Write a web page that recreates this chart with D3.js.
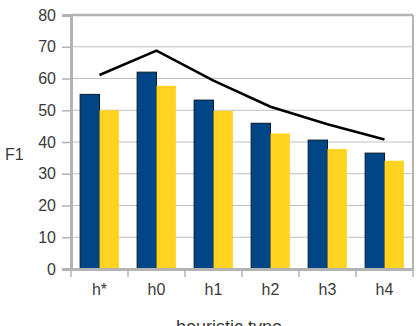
<!DOCTYPE html>
<html>
<head>
<meta charset="utf-8">
<script src="https://cdn.jsdelivr.net/npm/d3@7"></script>
<style>
  body { margin: 0; background: #fff; }
  text { font-family: "Liberation Sans", Arial, sans-serif; fill: #3a3a3a; }
</style>
</head>
<body>
<div id="chart"></div>
<script>
const categories = ["h*", "h0", "h1", "h2", "h3", "h4"];
const seriesA = [55, 62, 53.2, 45.9, 40.6, 36.5];
const seriesB = [50, 57.7, 49.8, 42.7, 37.8, 34.1];
const lineValues = [61.1, 68.8, 59.3, 51.1, 45.6, 40.8];
const yTicks = [0, 10, 20, 30, 40, 50, 60, 70, 80];

const margin = { top: 15, right: 3, bottom: 57, left: 71 };
const width = 416 - margin.left - margin.right;
const height = 326 - margin.top - margin.bottom;

const svg = d3.select("#chart")
    .append("svg")
    .attr("width", 416)
    .attr("height", 326);

const g = svg.append("g")
    .attr("transform", `translate(${margin.left},${margin.top})`);

const x = d3.scaleBand()
    .domain(categories)
    .range([0, width])
    .paddingInner(0)
    .paddingOuter(0);

const y = d3.scaleLinear()
    .domain([0, 80])
    .range([height, 0]);

const sub = d3.scaleBand()
    .domain(["a", "b"])
    .range([x.bandwidth() * 0.16, x.bandwidth() * 0.84]);

// gridlines
g.selectAll("line.grid")
    .data(yTicks.filter(d => d > 0 && d < 80))
    .join("line")
    .attr("x1", 0)
    .attr("x2", width)
    .attr("y1", d => y(d))
    .attr("y2", d => y(d))
    .attr("stroke", "#c0c0c0")
    .attr("stroke-width", 1);

// frame top/right
g.append("line")
    .attr("x1", 0).attr("x2", width)
    .attr("y1", 0).attr("y2", 0)
    .attr("stroke", "#b3b3b3").attr("stroke-width", 2.5);
g.append("line")
    .attr("x1", width).attr("x2", width)
    .attr("y1", 0).attr("y2", height)
    .attr("stroke", "#b3b3b3").attr("stroke-width", 2);

// bars
const groups = g.selectAll("g.cat")
    .data(categories.map((c, i) => ({ c, a: seriesA[i], b: seriesB[i] })))
    .join("g")
    .attr("transform", d => `translate(${x(d.c)},0)`);

groups.append("rect")
    .attr("x", sub("a"))
    .attr("width", sub.bandwidth())
    .attr("y", d => y(d.a))
    .attr("height", d => y(0) - y(d.a))
    .attr("fill", "#004586")
    .attr("stroke", "#0a1a2a")
    .attr("stroke-width", 1);

groups.append("rect")
    .attr("x", sub("b"))
    .attr("width", sub.bandwidth())
    .attr("y", d => y(d.b))
    .attr("height", d => y(0) - y(d.b))
    .attr("fill", "#ffd320");

// line
const line = d3.line()
    .x((d, i) => x(categories[i]) + x.bandwidth() / 2)
    .y(d => y(d));

g.append("path")
    .datum(lineValues)
    .attr("d", line)
    .attr("fill", "none")
    .attr("stroke", "#000")
    .attr("stroke-width", 2.5);

// y axis
const yAxis = g.append("g")
    .call(d3.axisLeft(y).tickValues(yTicks).tickSize(9).tickPadding(6));
yAxis.select(".domain").attr("stroke", "#b3b3b3").attr("stroke-width", 3);
yAxis.selectAll(".tick line").attr("stroke", "#b3b3b3").attr("stroke-width", 1.5);
yAxis.selectAll("text")
    .style("font-size", "16px")
    .style("fill", "#3a3a3a")
    .style("font-family", "Liberation Sans, Arial, sans-serif");

// x axis
const xAxis = g.append("g")
    .attr("transform", `translate(0,${height})`)
    .call(d3.axisBottom(x).tickSize(0).tickPadding(15));
xAxis.select(".domain").attr("stroke", "#b3b3b3").attr("stroke-width", 3);
xAxis.selectAll("text")
    .style("font-size", "16px")
    .style("fill", "#3a3a3a")
    .style("font-family", "Liberation Sans, Arial, sans-serif");

// x category separators
g.selectAll("line.xtick")
    .data(categories.concat(["end"]))
    .join("line")
    .attr("x1", (d, i) => i * x.bandwidth())
    .attr("x2", (d, i) => i * x.bandwidth())
    .attr("y1", height)
    .attr("y2", height + 8)
    .attr("stroke", "#b3b3b3")
    .attr("stroke-width", 1.5);

// axis titles
svg.append("text")
    .attr("x", 5)
    .attr("y", 160)
    .style("font-size", "16px")
    .text("F1");

svg.append("text")
    .attr("x", 229)
    .attr("y", 333)
    .attr("text-anchor", "middle")
    .style("font-size", "18px")
    .text("heuristic type");
</script>
</body>
</html>
